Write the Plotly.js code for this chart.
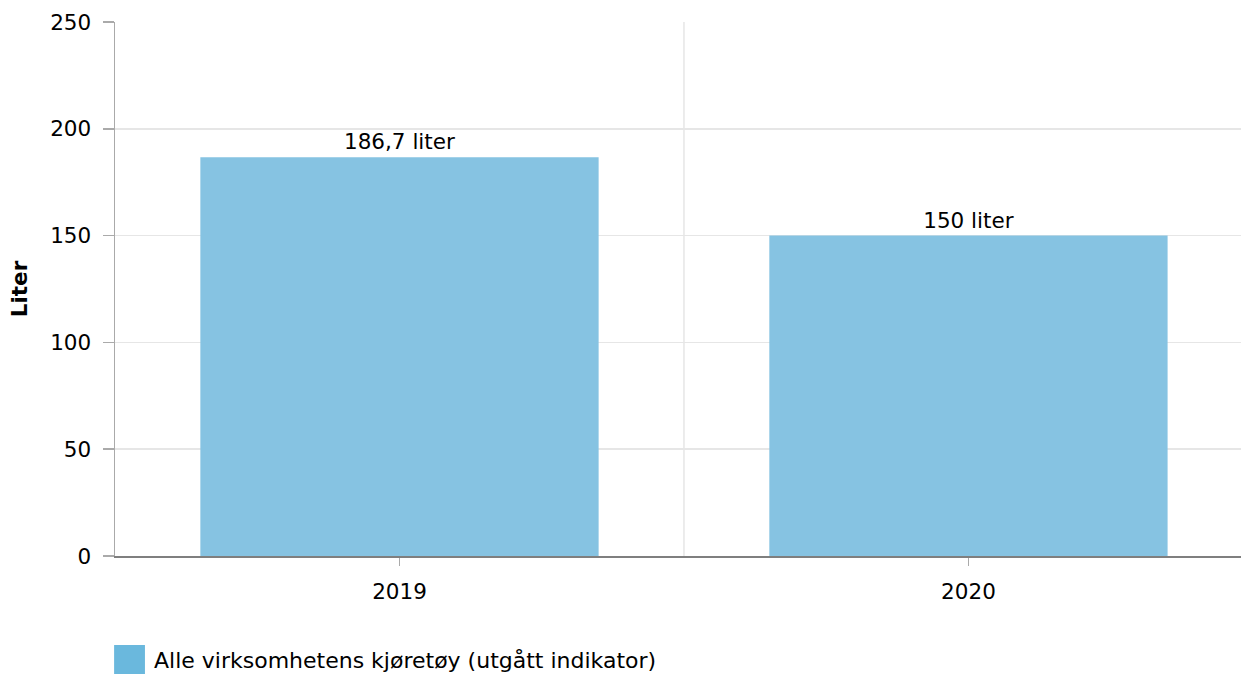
<!DOCTYPE html>
<html>
<head>
<meta charset="utf-8">
<script src="https://cdn.plot.ly/plotly-3.0.1.min.js"></script>
<style>html,body{margin:0;padding:0;background:#fff}#chart{width:1241px;height:674px}</style>
</head>
<body>
<div id="chart"></div>
<script>
const categories = ['2019', '2020'];
const values = [186.7, 150];
const seriesName = 'Alle virksomhetens kjøretøy (utgått indikator)';
const yTicks = [0, 50, 100, 150, 200, 250];
const yTitle = 'Liter';

const FONT = 'DejaVu Sans, Verdana, sans-serif';
const FS = 21.5;
const labels = values.map(v => String(v).replace('.', ',') + ' liter');

const trace = {
  type: 'bar',
  x: categories,
  y: values,
  name: seriesName,
  width: 0.7,
  marker: {color: '#86c3e2'},
  text: labels,
  texttemplate: '%{text}',
  textposition: 'outside',
  textfont: {family: FONT, size: FS, color: '#000'},
  cliponaxis: false,
  showlegend: false,
  hoverinfo: 'x+y'
};

const layout = {
  width: 1241, height: 674,
  margin: {l: 115, r: 0, t: 22, b: 118},
  paper_bgcolor: '#fff', plot_bgcolor: '#fff',
  font: {family: FONT, size: FS, color: '#000'},
  showlegend: false,
  xaxis: {
    type: 'category',
    range: [-0.5, 1.479],
    showgrid: false,
    showline: true, linecolor: '#7f7f7f', linewidth: 1.5,
    ticks: 'outside', ticklen: 8, tickcolor: '#aaa', tickwidth: 1.5,
    ticklabelstandoff: 8,
    tickfont: {family: FONT, size: FS, color: '#000'},
    zeroline: false
  },
  yaxis: {
    range: [0, 250],
    tickvals: yTicks,
    showgrid: true, gridcolor: '#e6e6e6', gridwidth: 1.5,
    showline: true, linecolor: '#aaa', linewidth: 1.5,
    ticks: 'outside', ticklen: 11, tickcolor: '#aaa', tickwidth: 1.5,
    ticklabelstandoff: 7,
    tickfont: {family: FONT, size: FS, color: '#000'},
    zeroline: false,
    title: {text: '<b>' + yTitle + '</b>', font: {family: FONT, size: FS, color: '#000'}, standoff: 16}
  },
  shapes: [
    {type: 'line', xref: 'x', yref: 'paper', x0: 0.5, x1: 0.5, y0: 0, y1: 1,
     line: {color: '#e6e6e6', width: 1.5}, layer: 'below'},
    {type: 'rect', xref: 'paper', yref: 'paper', x0: -0.0008, x1: 0.0266, y0: -0.1667, y1: -0.222,
     fillcolor: '#6ab8dd', line: {width: 0}}
  ],
  annotations: [
    {xref: 'paper', yref: 'paper', x: 0.0325, y: -0.195, xanchor: 'left', yanchor: 'middle',
     text: seriesName, showarrow: false, font: {family: FONT, size: 22, color: '#000'}}
  ]
};

Plotly.newPlot('chart', [trace], layout, {displayModeBar: false, staticPlot: true});
</script>
</body>
</html>
